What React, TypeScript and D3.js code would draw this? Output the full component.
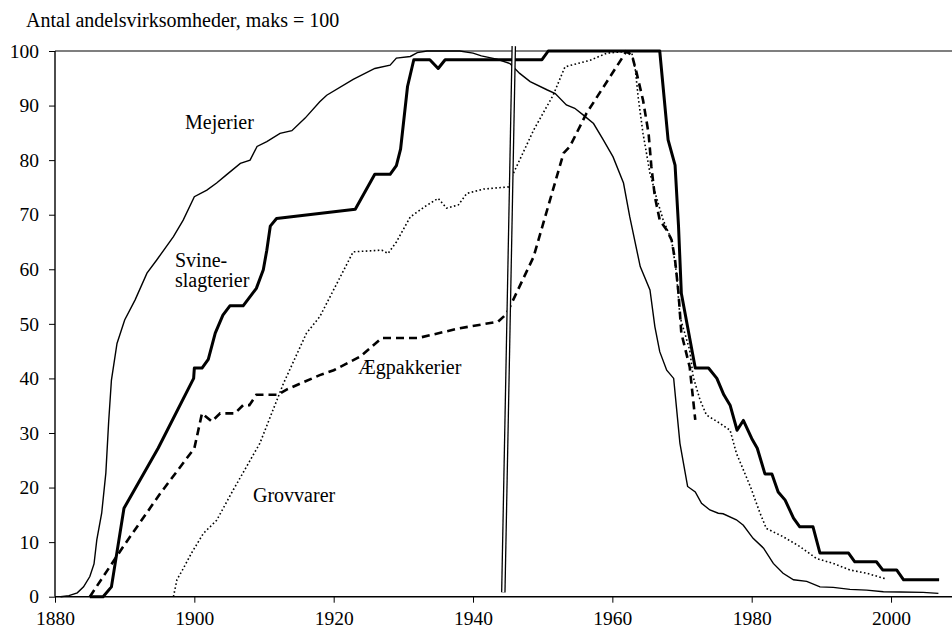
import React, { useRef, useEffect } from "react";
import * as d3 from "d3";

// [year, index (max = 100)]
const mejerier: [number, number][] = [
  [1880.8, 0], [1882, 0.2], [1883.2, 0.7], [1884.1, 1.8], [1885, 3.7], [1885.6, 6],
  [1886, 10.4], [1886.7, 15.3], [1887.3, 22.7], [1887.7, 32], [1888.1, 39.7],
  [1888.9, 46.4], [1890, 50.7], [1891.5, 54.4], [1893.2, 59.3], [1894.6, 61.7],
  [1897, 66], [1898.4, 69], [1900, 73.3], [1901.8, 74.5], [1903.2, 75.8],
  [1904.6, 77.3], [1906.6, 79.4], [1908, 80], [1909, 82.5], [1910.4, 83.4],
  [1912.3, 84.9], [1914, 85.4], [1915.9, 87.7], [1918, 90.7], [1919, 91.9],
  [1922.8, 94.8], [1925.9, 96.8], [1928.1, 97.4], [1929, 98.7], [1931, 99],
  [1932, 99.7], [1933.4, 100], [1938.1, 100], [1940, 99.6], [1941.2, 99.1],
  [1943.4, 98.5], [1945.3, 97.7], [1946.7, 95.9], [1948.2, 94.4], [1950.6, 92.9],
  [1951.8, 92.2], [1953.4, 90.1], [1954.6, 89.5], [1955.8, 88.3], [1957.3, 86.7],
  [1958.7, 83.7], [1960.1, 80.6], [1961.6, 75.8], [1962.5, 69.6], [1964, 60.5],
  [1965.4, 56.2], [1966.1, 49.5], [1966.8, 44.9], [1967.8, 41.5], [1968.8, 40],
  [1969.7, 28.1], [1970.8, 20.2], [1971.9, 19.2], [1972.8, 17.1], [1974, 15.9],
  [1975.2, 15.3], [1975.9, 15.2], [1977.8, 14.1], [1978.8, 13.1], [1980.2, 10.7],
  [1981.7, 8.9], [1983.1, 6.1], [1984.5, 4.3], [1986, 3.1], [1987.9, 2.8],
  [1989.8, 1.8], [1991.7, 1.7], [1994.1, 1.35], [1996.5, 1.2], [1998.9, 0.9],
  [2001.3, 0.86], [2004.6, 0.8], [2006.8, 0.6],
];

const svineslagterier: [number, number][] = [
  [1885, 0], [1886.9, 0], [1888.1, 1.8], [1889.9, 16.2], [1894.8, 27.2],
  [1899.9, 40], [1900, 41.9], [1901.1, 41.9], [1902, 43.5], [1903, 48.3],
  [1904.1, 51.6], [1905.1, 53.3], [1907, 53.3], [1908.9, 56.5], [1909.9, 59.9],
  [1910.4, 63.5], [1910.9, 67.9], [1911.8, 69.3], [1923.1, 71], [1925.9, 77.4],
  [1928.1, 77.4], [1929, 79], [1929.6, 82], [1930.6, 93.5], [1931.5, 98.4],
  [1933.8, 98.4], [1935, 96.8], [1936, 98.4], [1949.9, 98.4], [1950.8, 100],
  [1966.8, 100], [1968, 83.7], [1969, 79.1], [1969.5, 67.8], [1969.9, 55.6],
  [1971.9, 41.9], [1973.8, 41.9], [1975, 40], [1976, 37], [1976.9, 35.1],
  [1977.9, 30.5], [1978.8, 32.3], [1980, 29], [1980.8, 27.2], [1981.9, 22.5],
  [1982.9, 22.5], [1983.8, 19.2], [1984.8, 17.7], [1986, 14.4], [1986.9, 12.8],
  [1988.8, 12.8], [1989.8, 8], [1993.9, 8], [1994.8, 6.4], [1997.9, 6.4],
  [1998.8, 4.9], [2000.8, 4.9], [2001.8, 3.1], [2006.9, 3.1],
];

const grovvarer: [number, number][] = [
  [1897, 0], [1897.5, 3.1], [1898.3, 4.9], [1899.6, 8], [1901.3, 11.6],
  [1903.2, 14], [1905.6, 19.6], [1909.4, 28.1], [1912.8, 39.1], [1916.1, 48.3],
  [1918, 51.3], [1922.8, 63.2], [1926.9, 63.5], [1927.8, 62.9], [1929, 65],
  [1931, 69.6], [1933.1, 71.5], [1935, 73], [1936.2, 71.2], [1937.9, 71.8],
  [1939.1, 73.9], [1941.5, 74.7], [1945.1, 75.1], [1945.8, 77.6], [1948.7, 85.5],
  [1951.5, 91.9], [1953.2, 97.1], [1956.8, 98.3], [1959.2, 99.6], [1961.8, 99.9],
  [1962.8, 99.6], [1963.3, 96.5], [1963.7, 91.6], [1964.4, 84.9], [1965.4, 77.6],
  [1966.3, 73.3], [1967.3, 69], [1968.5, 65.4], [1969.2, 59.3], [1969.7, 51.3],
  [1971.1, 45.2], [1971.6, 40.3], [1972.6, 36], [1973.5, 33.3], [1975.4, 31.8],
  [1976.9, 30.5], [1977.8, 26.3], [1979.8, 20.2], [1981.2, 15.3], [1982.1, 12.5],
  [1984.5, 11], [1986.9, 9.2], [1989.3, 7], [1991.7, 6.1], [1994.1, 4.9],
  [1996.5, 4.3], [1999.4, 3.2],
];

const aegpakkerier: [number, number][] = [
  [1885, 0], [1889.8, 9.2], [1895.1, 18.9], [1900, 27.2], [1901.1, 33.6],
  [1902.5, 32.1], [1903.7, 33.6], [1905.8, 33.6], [1907, 35.1], [1907.9, 35.1],
  [1908.9, 37], [1912, 37], [1913.3, 38], [1918, 40.6], [1920, 41.5],
  [1923.8, 44], [1926.9, 47.4], [1932.1, 47.4], [1938.1, 49.2], [1943.6, 50.4],
  [1944.8, 51.8], [1948.7, 62.3], [1953, 81.3], [1953.9, 82.5], [1956.3, 88.6],
  [1962, 99.9], [1962.8, 99.3], [1963.5, 95.9], [1964.4, 91], [1965.2, 84.9],
  [1965.6, 78.8], [1966.1, 73.3], [1966.8, 69], [1967.8, 67.2], [1968.5, 65.4],
  [1969, 61.7], [1969.5, 55.6], [1969.9, 48.3], [1971.1, 42.1], [1971.9, 32.4],
];

// the double "break" line around 1945
const breakLine: [number, number][] = [[1944.35, 0.8], [1945.85, 100.9]];

const xTicks = [1880, 1900, 1920, 1940, 1960, 1980, 2000];
const yTicks = [0, 10, 20, 30, 40, 50, 60, 70, 80, 90, 100];

const title = "Antal andelsvirksomheder, maks = 100";

const FONT = "'Liberation Serif', 'Times New Roman', serif";

const App = () => {
  const ref = useRef<SVGSVGElement>(null);

  useEffect(() => {
    if (!ref.current) return;
    const svg = d3.select(ref.current);
    svg.selectAll("*").remove();

    const x = d3.scaleLinear().domain([1880, 2008.75]).range([55, 952]);
    const y = d3.scaleLinear().domain([0, 100]).range([596.7, 51]);

    const line = d3
      .line<[number, number]>()
      .x((d) => x(d[0]))
      .y((d) => y(d[1]));

    // top border
    svg
      .append("line")
      .attr("x1", x(1880))
      .attr("x2", 952)
      .attr("y1", y(100))
      .attr("y2", y(100))
      .attr("stroke", "#555")
      .attr("stroke-width", 1.6);

    // axes
    const xAxis = svg
      .append("g")
      .attr("transform", `translate(0,${y(0)})`)
      .call(d3.axisBottom(x).tickValues(xTicks).tickSize(6).tickPadding(8).tickFormat(d3.format("d")));
    xAxis.select(".domain").attr("d", `M${x(1880)},0H952`).attr("stroke-width", 1.4);

    const yAxis = svg
      .append("g")
      .attr("transform", `translate(${x(1880)},0)`)
      .call(d3.axisLeft(y).tickValues(yTicks).tickSize(6).tickPadding(10));
    yAxis.select(".domain").attr("d", `M0,${y(0)}V${y(100)}`).attr("stroke-width", 1.4);

    svg
      .selectAll(".tick text")
      .attr("font-family", FONT)
      .attr("font-size", 19.5)
      .attr("fill", "#000");
    svg.selectAll(".tick line").attr("stroke", "#000");

    // series
    svg
      .append("path")
      .datum(mejerier)
      .attr("d", line)
      .attr("fill", "none")
      .attr("stroke", "#000")
      .attr("stroke-width", 1.4);

    svg
      .append("path")
      .datum(grovvarer)
      .attr("d", line)
      .attr("fill", "none")
      .attr("stroke", "#000")
      .attr("stroke-width", 1.6)
      .attr("stroke-dasharray", "1.6,2.4");

    svg
      .append("path")
      .datum(aegpakkerier)
      .attr("d", line)
      .attr("fill", "none")
      .attr("stroke", "#000")
      .attr("stroke-width", 2.6)
      .attr("stroke-dasharray", "8,5");

    svg
      .append("path")
      .datum(svineslagterier)
      .attr("d", line)
      .attr("fill", "none")
      .attr("stroke", "#000")
      .attr("stroke-width", 3)
      .attr("stroke-linejoin", "round");

    // double break line
    svg
      .append("path")
      .datum(breakLine)
      .attr("d", line)
      .attr("stroke", "#000")
      .attr("stroke-width", 4.6);
    svg
      .append("path")
      .datum(breakLine)
      .attr("d", line)
      .attr("stroke", "#fff")
      .attr("stroke-width", 2);

    // labels
    const labels = [
      { text: "Mejerier", x: 185, y: 129 },
      { text: "Svine-", x: 175, y: 266.5 },
      { text: "slagterier", x: 175, y: 287 },
      { text: "Ægpakkerier", x: 358, y: 373.5 },
      { text: "Grovvarer", x: 253, y: 502 },
    ];
    svg
      .selectAll(".lbl")
      .data(labels)
      .enter()
      .append("text")
      .attr("class", "lbl")
      .attr("x", (d) => d.x)
      .attr("y", (d) => d.y)
      .attr("font-family", FONT)
      .attr("font-size", 20)
      .text((d) => d.text);

    svg
      .append("text")
      .attr("x", 26)
      .attr("y", 27)
      .attr("font-family", FONT)
      .attr("font-size", 20)
      .text(title);
  }, []);

  return (
    <svg
      ref={ref}
      width={952}
      height={629}
      style={{ position: "absolute", left: 0, top: 0, background: "#fff" }}
    />
  );
};

export default App;
